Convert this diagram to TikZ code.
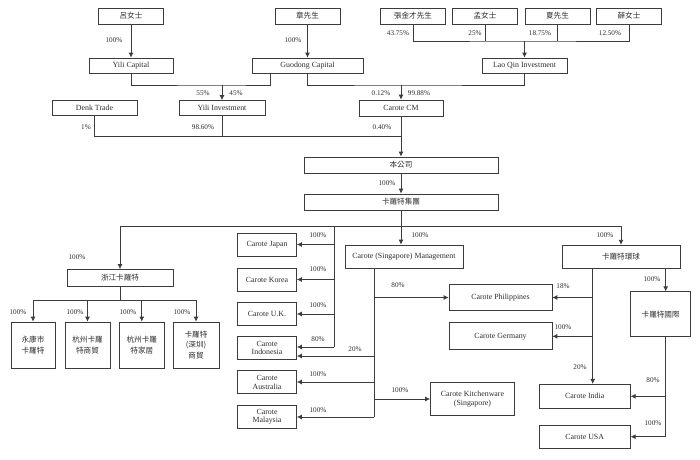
\documentclass[tikz,border=0pt]{standalone}
\usepackage{fontspec}
\setmainfont{Liberation Serif}
\newfontfamily\cjk{Noto Sans CJK TC}
\definecolor{LineColor}{RGB}{60,60,60}
\definecolor{TextColor}{RGB}{45,45,45}
\usetikzlibrary{arrows.meta}
\tikzstyle{box} = [draw=LineColor, line width=0.55pt, rectangle, inner sep=1pt, align=center, text=TextColor, font=\fontsize{5.6}{6.3}\selectfont]
\tikzstyle{cn} = [box, font=\cjk\fontsize{5.4}{7.6}\selectfont]
\tikzstyle{pct} = [text=TextColor, inner sep=0pt, font=\fontsize{5.1}{6}\selectfont]
\tikzstyle{line} = [draw=LineColor, line width=0.55pt]
\tikzstyle{arrow} = [line, -{Latex[length=3.5pt,width=3.5pt]}]

\begin{document}
\begin{tikzpicture}[x=0.025cm, y=-0.025cm]
                \useasboundingbox (0,0) rectangle (700,460);

                % Shareholders
                \node[cn, minimum width=1.625cm, minimum height=0.4cm] (lv) at (131,16) {呂女士};
                \node[cn, minimum width=1.625cm, minimum height=0.4cm] (zhang) at (307.5,16) {章先生};
                \node[cn, minimum width=1.625cm, minimum height=0.4cm] (zjc) at (413,16) {張金才先生};
                \node[cn, minimum width=1.625cm, minimum height=0.4cm] (meng) at (485,16) {孟女士};
                \node[cn, minimum width=1.625cm, minimum height=0.4cm] (xia) at (557.5,16) {夏先生};
                \node[cn, minimum width=1.625cm, minimum height=0.4cm] (xue) at (629,16) {薛女士};

                % Holding vehicles
                \node[box, minimum width=2.1cm, minimum height=0.375cm] (yilicap) at (131,65.5) {Yili Capital};
                \node[box, minimum width=2.775cm, minimum height=0.375cm] (guodong) at (307.5,65.5) {Guodong Capital};
                \node[box, minimum width=2.125cm, minimum height=0.375cm] (laoqin) at (524.5,65.5) {Lao Qin Investment};
                \node[box, minimum width=2.125cm, minimum height=0.375cm] (denk) at (94.5,108) {Denk Trade};
                \node[box, minimum width=2.15cm, minimum height=0.375cm] (yiliinv) at (222,108) {Yili Investment};
                \node[box, minimum width=2.1cm, minimum height=0.4cm] (carotecm) at (401,108) {Carote CM};

                % Company and group
                \node[cn, minimum width=4.85cm, minimum height=0.4cm] (company) at (401,165) {本公司};
                \node[cn, minimum width=4.85cm, minimum height=0.4cm] (group) at (401,202) {卡羅特集團};

                % Subsidiaries
                \node[cn, minimum width=2.65cm, minimum height=0.425cm] (zhejiang) at (120,278) {浙江卡羅特};
                \node[cn, minimum width=1.1cm, minimum height=1.15cm] (yk) at (33,345) {永康市\\卡羅特};
                \node[cn, minimum width=1.125cm, minimum height=1.15cm] (hzsm) at (87.5,345) {杭州卡羅\\特商貿};
                \node[cn, minimum width=1.125cm, minimum height=1.15cm] (hzjj) at (141.8,345) {杭州卡羅\\特家居};
                \node[cn, minimum width=1.15cm, minimum height=1.15cm] (sz) at (196,345) {卡羅特\\(深圳)\\商貿};

                \node[box, minimum width=1.475cm, minimum height=0.575cm] (japan) at (267,244.5) {Carote Japan};
                \node[box, minimum width=1.475cm, minimum height=0.575cm] (korea) at (267,279.5) {Carote Korea};
                \node[box, minimum width=1.475cm, minimum height=0.575cm] (uk) at (267,314) {Carote U.K.};
                \node[box, minimum width=1.475cm, minimum height=0.575cm] (indonesia) at (267,348) {Carote\\Indonesia};
                \node[box, minimum width=1.475cm, minimum height=0.575cm] (australia) at (267,382) {Carote\\Australia};
                \node[box, minimum width=1.475cm, minimum height=0.575cm] (malaysia) at (267,416.7) {Carote\\Malaysia};

                \node[box, minimum width=2.95cm, minimum height=0.575cm] (sgmgmt) at (404,256.5) {Carote (Singapore) Management};
                \node[box, minimum width=2.575cm, minimum height=0.65cm] (philippines) at (500.5,297.5) {Carote Philippines};
                \node[box, minimum width=2.575cm, minimum height=0.675cm] (germany) at (500.5,336.3) {Carote Germany};
                \node[box, minimum width=2.1cm, minimum height=0.825cm] (kitchen) at (472.5,399) {Carote Kitchenware\\(Singapore)};

                \node[cn, minimum width=2.95cm, minimum height=0.575cm] (global) at (621,256.7) {卡羅特環球};
                \node[cn, minimum width=1.5cm, minimum height=1.125cm] (intl) at (660.7,314.2) {卡羅特國際};
                \node[box, minimum width=2.275cm, minimum height=0.6cm] (india) at (584.7,396.3) {Carote India};
                \node[box, minimum width=2.275cm, minimum height=0.575cm] (usa) at (584.7,437) {Carote USA};

                % Junctions
                \coordinate (lqj) at (524.5,41);
                \coordinate (gdl) at (270,73);
                \coordinate (yij) at (222,85);
                \coordinate (cmj) at (401,85);
                \coordinate (coj) at (401,136);
                \coordinate (grj) at (401,226);
                \coordinate (lsp) at (334,226);
                \coordinate (lbot) at (334,347);
                \coordinate (stop) at (374,268);
                \coordinate (s20) at (374,356);
                \coordinate (sbot) at (374,417);
                \coordinate (gsp) at (592.7,268.3);
                \coordinate (isp) at (665.7,268.3);
                \coordinate (itop) at (665.7,336.7);
                \coordinate (ibot) at (665.7,436.7);
                \coordinate (zjj) at (120,300.7);

                % Top ownership
                \draw[arrow] (lv) -- (yilicap);
                \draw[arrow] (zhang) -- (guodong);
                \draw[line] (zjc.south) |- (lqj) -| (xue.south);
                \draw[line] (meng.south) -- (meng.south |- lqj);
                \draw[line] (xia.south) -- (xia.south |- lqj);
                \draw[arrow] (lqj) -- (laoqin);
                \draw[line] (yilicap.south) |- (yij) -| (gdl);
                \draw[arrow] (yij) -- (yiliinv);
                \draw[line] (guodong.south) |- (cmj) -| (laoqin.south);
                \draw[arrow] (cmj) -- (carotecm);
                \draw[line] (denk.south) |- (coj);
                \draw[line] (yiliinv.south) -- (yiliinv.south |- coj);
                \draw[line] (carotecm) -- (coj);
                \draw[arrow] (coj) -- (company);
                \draw[arrow] (company) -- (group);

                % Group level
                \draw[line] (group) -- (grj);
                \draw[arrow] (grj) -| (zhejiang.north);
                \draw[arrow] (grj) -| (global.north);
                \draw[arrow] (grj) -- (grj |- sgmgmt.north);

                % Left spine
                \draw[line] (lsp) -- (lbot);
                \foreach \n in {japan,korea,uk}
                    \draw[arrow] (lsp |- \n) -- (\n);
                \draw[arrow] (lbot) -- (lbot -| indonesia.east);

                % Singapore spine
                \draw[line] (stop) -- (sbot);
                \foreach \n in {philippines,australia,kitchen}
                    \draw[arrow] (stop |- \n) -- (\n);
                \draw[arrow] (s20) -- (s20 -| indonesia.east);
                \draw[arrow] (sbot) -- (sbot -| malaysia.east);

                % Global spine
                \draw[arrow] (gsp) -- (gsp |- india.north);
                \foreach \n in {philippines,germany}
                    \draw[arrow] (gsp |- \n) -- (\n);
                \draw[arrow] (isp) -- (isp |- intl.north);
                \draw[line] (itop) -- (ibot);
                \draw[arrow] (itop |- india) -- (india);
                \draw[arrow] (ibot) -- (ibot -| usa.east);

                % Zhejiang spine
                \draw[line] (zhejiang) -- (zjj);
                \foreach \n in {yk,hzsm,hzjj,sz}
                    \draw[arrow] (zjj) -| (\n.north);

                % Percentages
                \foreach \x/\y/\t [count=\i] in {114/40/100\%, 293/40/100\%, 398/33/43.75\%, 475/33/25\%, 540/33/18.75\%, 610/33/12.50\%,
                        203/93/55\%, 236/93/45\%, 381/93/0.12\%, 419/93/99.88\%, 86/127/1\%, 203/127/98.60\%, 382/127/0.40\%,
                        387/183/100\%, 77/257/100\%, 318/235/100\%, 420/235/100\%, 605/235/100\%,
                        318/269/100\%, 318/305/100\%, 318/339/80\%, 355/349/20\%, 318/374/100\%, 318/410/100\%,
                        398/285/80\%, 400/390/100\%, 563/286/18\%, 563/327/100\%, 580/367/20\%,
                        652/279/100\%, 653/380/80\%, 653/423/100\%,
                        18/312/100\%, 75/312/100\%, 128/312/100\%, 182/312/100\%}
                    \node[pct] (pct\i) at (\x,\y) {\t};
            \end{tikzpicture}
\end{document}
